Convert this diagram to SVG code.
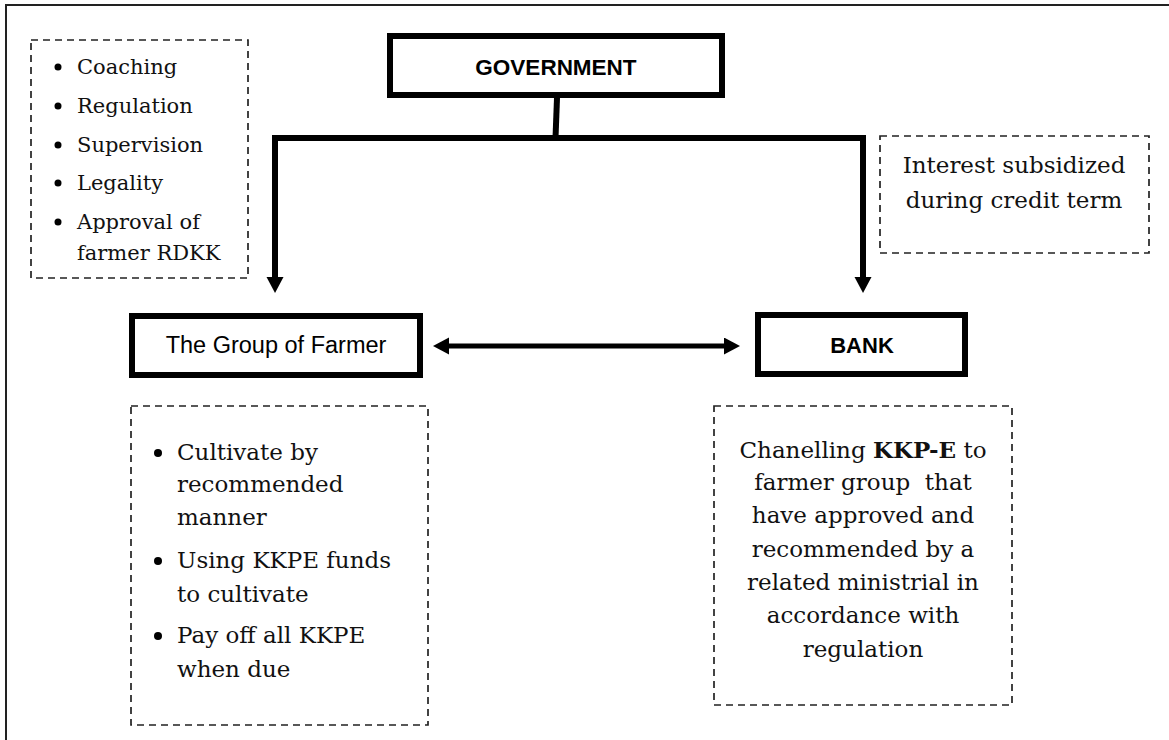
<svg xmlns="http://www.w3.org/2000/svg" width="1169" height="740" viewBox="0 0 1169 740">
  <defs>
    <style>
      .frame { fill: none; stroke: #222; stroke-width: 2; }
      .node { fill: #fff; stroke: #000; stroke-width: 6; }
      .note { fill: none; stroke: #222; stroke-width: 1.7; stroke-dasharray: 7 5; }
      .conn { fill: none; stroke: #000; stroke-width: 6; stroke-linejoin: miter; }
      .sans { font-family: "Liberation Sans", Arial, sans-serif; fill: #000; }
      .serif { font-family: "DejaVu Serif", "Liberation Serif", serif; fill: #111; }
      .bold { font-weight: bold; }
      .bullet { fill: #000; }
    </style>
    <marker id="head" markerUnits="userSpaceOnUse" markerWidth="18" markerHeight="18" refX="0" refY="8.5" orient="auto-start-reverse" viewBox="0 0 18 18">
      <path d="M0,0 L16,8.5 L0,17 z" fill="#000"/>
    </marker>
  </defs>

  <rect class="frame" x="6" y="5" width="1250" height="800"/>

  <g id="connectors">
    <path class="conn" d="M557,98 L555.5,138"/>
    <path class="conn" d="M557,138 L275,138 L275,277" marker-end="url(#head)"/>
    <path class="conn" d="M557,138 L863,138 L863,277" marker-end="url(#head)"/>
    <path class="conn" style="stroke-width:5" d="M449,346 L724,346" marker-start="url(#head)" marker-end="url(#head)"/>
  </g>

  <g id="government">
    <rect class="node" x="390" y="36" width="332" height="59"/>
    <text class="sans bold" x="556" y="75" font-size="22.5" text-anchor="middle">GOVERNMENT</text>
  </g>

  <g id="farmer-group">
    <rect class="node" x="132" y="316" width="288" height="59"/>
    <text class="sans" x="276" y="353" font-size="23.5" text-anchor="middle">The Group of Farmer</text>
  </g>

  <g id="bank">
    <rect class="node" x="758" y="315" width="207" height="59"/>
    <text class="sans bold" x="862" y="353" font-size="22" text-anchor="middle">BANK</text>
  </g>

  <g id="government-roles">
    <rect class="note" x="31" y="40" width="217" height="238"/>
    <g class="serif" font-size="21">
      <circle class="bullet" cx="58" cy="67" r="3.5"/>
      <text x="77" y="74">Coaching</text>
      <circle class="bullet" cx="58" cy="106" r="3.5"/>
      <text x="77" y="113">Regulation</text>
      <circle class="bullet" cx="58" cy="145" r="3.5"/>
      <text x="77" y="152">Supervision</text>
      <circle class="bullet" cx="58" cy="183" r="3.5"/>
      <text x="77" y="190">Legality</text>
      <circle class="bullet" cx="58" cy="222" r="3.5"/>
      <text x="77" y="229">Approval of</text>
      <text x="77" y="260">farmer RDKK</text>
    </g>
  </g>

  <g id="interest-note">
    <rect class="note" x="880" y="136" width="269" height="117"/>
    <g class="serif" font-size="23" text-anchor="middle">
      <text x="1014" y="173">Interest subsidized</text>
      <text x="1014" y="208">during credit term</text>
    </g>
  </g>

  <g id="farmer-duties">
    <rect class="note" x="131" y="406" width="297" height="319"/>
    <g class="serif" font-size="23">
      <circle class="bullet" cx="158" cy="453" r="4"/>
      <text x="177" y="460">Cultivate by</text>
      <text x="177" y="492">recommended</text>
      <text x="177" y="525">manner</text>
      <circle class="bullet" cx="158" cy="561" r="4"/>
      <text x="177" y="568">Using KKPE funds</text>
      <text x="177" y="602">to cultivate</text>
      <circle class="bullet" cx="158" cy="636" r="4"/>
      <text x="177" y="643">Pay off all KKPE</text>
      <text x="177" y="677">when due</text>
    </g>
  </g>

  <g id="bank-duties">
    <rect class="note" x="714" y="406" width="298" height="299"/>
    <g class="serif" font-size="23" text-anchor="middle">
      <text x="863" y="458">Chanelling <tspan class="bold">KKP-E</tspan> to</text>
      <text x="863" y="490" xml:space="preserve">farmer group  that</text>
      <text x="863" y="523">have approved and</text>
      <text x="863" y="557">recommended by a</text>
      <text x="863" y="590">related ministrial in</text>
      <text x="863" y="623">accordance with</text>
      <text x="863" y="657">regulation</text>
    </g>
  </g>
</svg>
